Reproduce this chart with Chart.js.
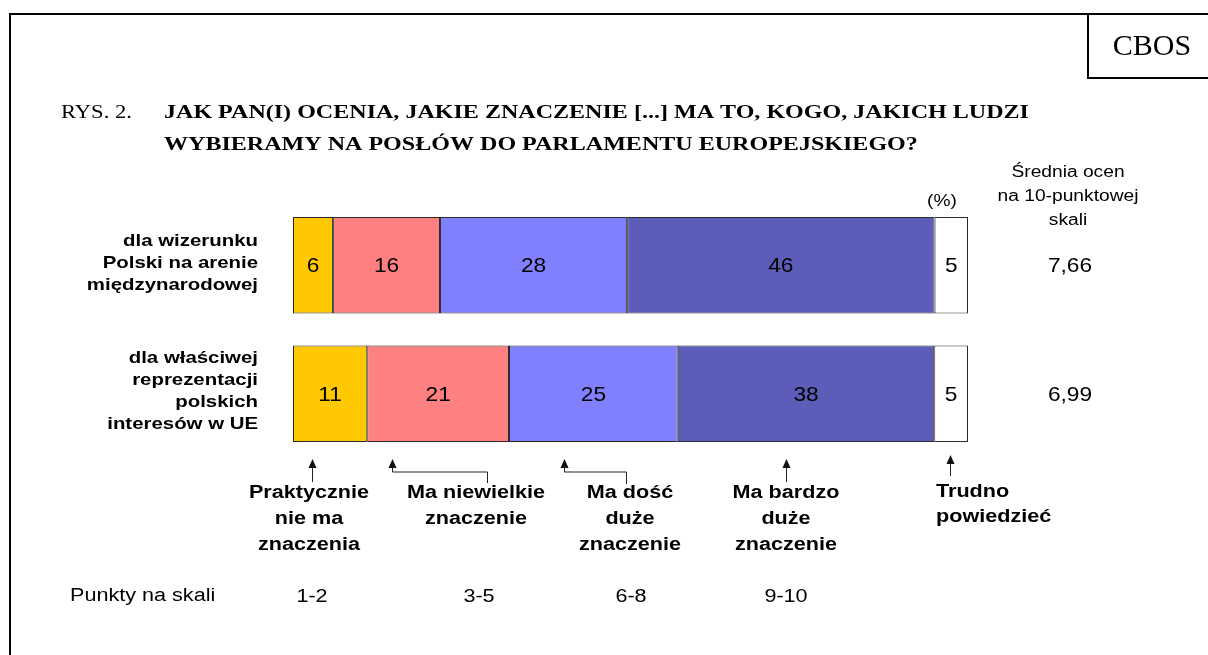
<!DOCTYPE html>
<html lang="pl">
<head>
<meta charset="utf-8">
<title>CBOS - Rys. 2</title>
<script src="https://cdn.jsdelivr.net/npm/chart.js@4.4.1/dist/chart.umd.min.js"></script>
<style>
    html, body { margin: 0; padding: 0; background: #fff; }
    #wrap { width: 1208px; height: 655px; }
</style>
</head>
<body>
<div id="wrap"><canvas id="chart" width="1208" height="655"></canvas></div>
<script>
// dane z rysunku
const kategorie = [
    ['dla wizerunku', 'Polski na arenie', 'międzynarodowej'],
    ['dla właściwej', 'reprezentacji', 'polskich', 'interesów w UE']
];
const odpowiedzi = ['Praktycznie nie ma znaczenia', 'Ma niewielkie znaczenie', 'Ma dość duże znaczenie', 'Ma bardzo duże znaczenie', 'Trudno powiedzieć'];
const nieMaZnaczenia = [6, 11];
const niewielkie = [16, 21];
const doscDuze = [28, 25];
const bardzoDuze = [46, 38];
const trudno = [5, 5];
const srednie = ['7,66', '6,99'];
const punkty = ['1-2', '3-5', '6-8', '9-10'];
const opisy = [
    ['Praktycznie', 'nie ma', 'znaczenia'],
    ['Ma niewielkie', 'znaczenie'],
    ['Ma dość', 'duże', 'znaczenie'],
    ['Ma bardzo', 'duże', 'znaczenie'],
    ['Trudno', 'powiedzieć']
];
const kolory = ['#FFC800', '#FF8080', '#8080FF', '#5B5DB9', '#FFFFFF'];

const serie = [nieMaZnaczenia, niewielkie, doscDuze, bardzoDuze, trudno];
// kazdy wiersz rozciagniety do 100% jak w oryginale
const sumy = kategorie.map((_, i) => serie.reduce((s, d) => s + d[i], 0));

const SANS = '"Liberation Sans", Arial, sans-serif';
const SERIF = '"Liberation Serif", "Times New Roman", serif';

function tekst(ctx, s, x, y, font, align, sx) {
    ctx.save();
    ctx.font = font;
    ctx.textAlign = align || 'center';
    ctx.textBaseline = 'middle';
    ctx.fillStyle = '#000';
    ctx.translate(x, y);
    ctx.scale(sx || 1.2, 1);
    ctx.fillText(s, 0, 0);
    ctx.restore();
}

function strzalka(ctx, pts) {
    ctx.save();
    ctx.strokeStyle = '#222';
    ctx.fillStyle = '#111';
    ctx.lineWidth = 1;
    ctx.beginPath();
    ctx.moveTo(pts[0][0] + 0.5, pts[0][1] + 7);
    for (let k = 1; k < pts.length; k++) ctx.lineTo(pts[k][0] + 0.5, pts[k][1]);
    ctx.stroke();
    const [x, y] = pts[0];
    ctx.beginPath();
    ctx.moveTo(x + 0.5, y);
    ctx.lineTo(x - 3.5, y + 9);
    ctx.lineTo(x + 4.5, y + 9);
    ctx.closePath();
    ctx.fill();
    ctx.restore();
}

const ramka = {
    id: 'ramka',
    beforeDraw(chart) {
        const ctx = chart.ctx;
        ctx.save();
        ctx.fillStyle = '#fff';
        ctx.fillRect(0, 0, chart.width, chart.height);
        ctx.strokeStyle = '#000';
        ctx.lineWidth = 2;
        ctx.beginPath();
        ctx.moveTo(10, 656);
        ctx.lineTo(10, 14);
        ctx.lineTo(1210, 14);
        ctx.moveTo(1088, 14);
        ctx.lineTo(1088, 78);
        ctx.lineTo(1210, 78);
        ctx.stroke();
        ctx.restore();
    },
    afterDraw(chart) {
        const ctx = chart.ctx;
        const y = chart.scales.y;

        tekst(ctx, 'CBOS', 1152, 47, '30px ' + SERIF, 'center', 1.0);
        tekst(ctx, 'RYS. 2.', 61, 113, '18.5px ' + SERIF, 'left', 1.22);
        tekst(ctx, 'JAK PAN(I) OCENIA, JAKIE ZNACZENIE [...] MA TO, KOGO, JAKICH LUDZI', 164, 113, 'bold 18.5px ' + SERIF, 'left', 1.3);
        tekst(ctx, 'WYBIERAMY NA POSŁÓW DO PARLAMENTU EUROPEJSKIEGO?', 164, 145, 'bold 18.5px ' + SERIF, 'left', 1.3);

        tekst(ctx, '(%)', 942, 202, '16px ' + SANS);
        ['Średnia ocen', 'na 10-punktowej', 'skali'].forEach((s, k) => {
            tekst(ctx, s, 1068, 173 + k * 24, '16px ' + SANS);
        });

        // etykiety kategorii i srednie
        kategorie.forEach((linie, i) => {
            const yc = y.getPixelForValue(i);
            const off = -(linie.length - 1) * 22 / 2 - 2;
            linie.forEach((s, k) => {
                tekst(ctx, s, 258, yc + off + k * 22, 'bold 17px ' + SANS, 'right');
            });
            tekst(ctx, srednie[i], 1070, yc + 1, '21px ' + SANS, 'center', 1.08);
        });

        // opisy pod wykresem
        const srodki = [309, 476, 630, 786];
        opisy.forEach((linie, i) => {
            linie.forEach((s, k) => {
                if (i < 4) tekst(ctx, s, srodki[i], 493 + k * 26, 'bold 18px ' + SANS);
                else tekst(ctx, s, 936, 492 + k * 25, 'bold 18px ' + SANS, 'left');
            });
        });
        strzalka(ctx, [[312, 459], [312, 482]]);
        strzalka(ctx, [[392, 459], [392, 472], [487, 472], [487, 483]]);
        strzalka(ctx, [[564, 459], [564, 472], [626, 472], [626, 484]]);
        strzalka(ctx, [[786, 459], [786, 482]]);
        strzalka(ctx, [[950, 455], [950, 476]]);

        tekst(ctx, 'Punkty na skali', 70, 596, '18px ' + SANS, 'left');
        const srodkiPkt = [312, 479, 631, 786];
        punkty.forEach((s, i) => tekst(ctx, s, srodkiPkt[i], 597, '18px ' + SANS));
    },
    afterDatasetsDraw(chart) {
        const ctx = chart.ctx;
        chart.data.datasets.forEach((ds, i) => {
            chart.getDatasetMeta(i).data.forEach((bar, j) => {
                const xc = (bar.x + bar.base) / 2;
                tekst(ctx, String(serie[i][j]), xc, bar.y + 1, '21px ' + SANS, 'center', 1.08);
            });
        });
    }
};

new Chart(document.getElementById('chart'), {
    type: 'bar',
    data: {
        labels: kategorie,
        datasets: serie.map((d, i) => ({
            label: odpowiedzi[i],
            data: d.map((v, j) => v / sumy[j] * 100),
            backgroundColor: kolory[i],
            borderColor: '#2a2a2a',
            borderWidth: 1,
            borderSkipped: false,
            barPercentage: 0.75,
            categoryPercentage: 1
        }))
    },
    options: {
        indexAxis: 'y',
        responsive: false,
        animation: false,
        layout: { padding: { left: 293, right: 240, top: 201, bottom: 197 } },
        plugins: {
            legend: { display: false },
            tooltip: { enabled: false },
            title: { display: false }
        },
        scales: {
            x: { stacked: true, min: 0, max: 100, display: false },
            y: { stacked: true, display: false }
        }
    },
    plugins: [ramka]
});
</script>
</body>
</html>
